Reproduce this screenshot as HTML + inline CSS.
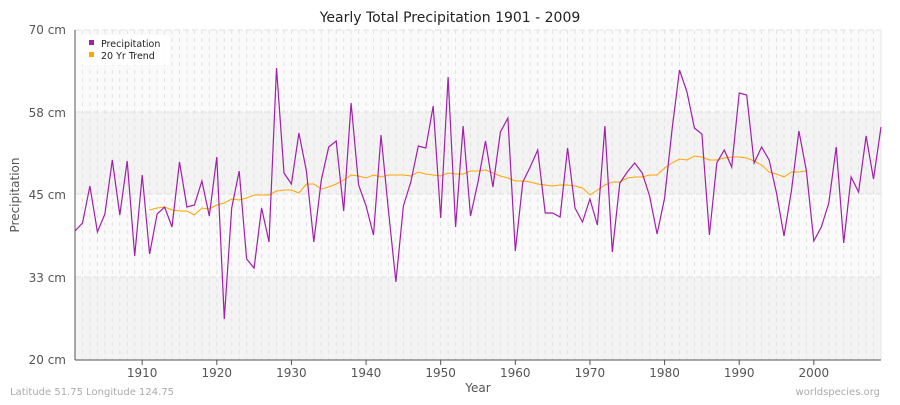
<!DOCTYPE html>
<html><head><meta charset="utf-8"><style>
body{margin:0;background:#fff;font-family:"Liberation Sans","DejaVu Sans",sans-serif}
</style></head><body>
<svg id="s" width="900" height="400" xmlns="http://www.w3.org/2000/svg" font-family="DejaVu Sans, Liberation Sans, sans-serif">
<rect x="0" y="0" width="900" height="400" fill="#fff"/>
<rect x="75" y="30" width="806" height="82" fill="#fafafa"/>
<rect x="75" y="112" width="806" height="82" fill="#f3f3f3"/>
<rect x="75" y="194" width="806" height="83" fill="#fafafa"/>
<rect x="75" y="277" width="806" height="83" fill="#f3f3f3"/>
<g id="grid"></g>
<g stroke="#e0e0e0" stroke-dasharray="6,3">
<line x1="75" x2="881" y1="30" y2="30"/><line x1="75" x2="881" y1="112" y2="112"/><line x1="75" x2="881" y1="194" y2="194"/><line x1="75" x2="881" y1="277" y2="277"/>
</g>
<line x1="881" y1="30" x2="881" y2="360" stroke="#e6e6e6"/>
<line x1="75" y1="30" x2="75" y2="360" stroke="#555"/>
<line x1="75" y1="360" x2="881" y2="360" stroke="#555"/>
<g id="ticks" stroke="#555"></g>
<polyline id="trend" fill="none" stroke="#ffa500" stroke-width="1"/>
<polyline id="prec" fill="none" stroke="#a020a8" stroke-width="1.2"/>
<g font-size="12" fill="#555" text-anchor="end">
<text x="66" y="34">70 cm</text><text x="66" y="117">58 cm</text><text x="66" y="199">45 cm</text><text x="66" y="282">33 cm</text><text x="66" y="364">20 cm</text>
</g>
<g id="xl" font-size="12" fill="#555" text-anchor="middle"></g>
<text x="450" y="22" font-size="14" text-anchor="middle" fill="#222">Yearly Total Precipitation 1901 - 2009</text>
<text x="478" y="392" font-size="12" text-anchor="middle" fill="#555">Year</text>
<text transform="translate(19,195) rotate(-90)" font-size="12" text-anchor="middle" fill="#555">Precipitation</text>
<text x="10" y="395" font-size="10" fill="#aaa">Latitude 51.75 Longitude 124.75</text>
<text x="880" y="395" font-size="10" fill="#aaa" text-anchor="end">worldspecies.org</text>
<rect x="80" y="35" width="90" height="30" rx="4" fill="#fff" opacity="0.9"/>
<rect x="89" y="40" width="5" height="5" fill="#a020a8"/>
<rect x="89" y="52" width="5" height="5" fill="#ffa500"/>
<text x="101" y="47" font-size="9.5" fill="#222">Precipitation</text>
<text x="101" y="59" font-size="9.5" fill="#222">20 Yr Trend</text>
</svg>
<script>
var P=[231,223,186,232,214,160,215,161,256,175,254,214,207,227,162,207,205,181,216,157,319,208,171,259,268,208,242,68,173,184,133,171,242,180,147,141,211,103,185,206,235,135,210,282,206,182,146,148,106,218,77,227,126,216,182,141,187,132,118,251,182,167,150,213,213,217,148,208,222,199,225,126,252,183,172,163,173,196,234,198,130,70,92,128,134,235,163,150,167,93,95,163,147,160,193,236,191,131,171,241,227,203,147,243,177,192,136,179,127];
var T=[210,208,207,210,211,211,215,208,209,205,203,199,200,198,195,195,195,191,190,190,193,184,184,189,187,184,180,175,176,178,175,177,175,175,175,176,172,174,175,176,173,174,174,171,171,170,173,176,178,181,181,182,184,185,186,185,185,186,188,195,190,185,182,182,178,177,177,175,175,168,163,159,160,156,157,160,160,158,157,157,158,161,165,172,174,177,172,172,171];
function X(y){return 75+(y-1901)*806/108;}
var s=document.getElementById('prec');s.setAttribute('points',P.map(function(v,i){return X(1901+i).toFixed(1)+','+v}).join(' '));
document.getElementById('trend').setAttribute('points',T.map(function(v,i){return X(1911+i).toFixed(1)+','+v}).join(' '));
var g='',t='',l='';
for(var y=1902;y<=2008;y++){g+='<line x1="'+X(y)+'" x2="'+X(y)+'" y1="30" y2="360" stroke="#e2e2e2" stroke-dasharray="4,4"/>';}
for(var y=1910;y<=2000;y+=10){t+='<line x1="'+X(y)+'" x2="'+X(y)+'" y1="360" y2="365"/>';l+='<text x="'+X(y)+'" y="377">'+y+'</text>';}
document.getElementById('grid').innerHTML=g;document.getElementById('ticks').innerHTML=t;document.getElementById('xl').innerHTML=l;
</script>
</body></html>
